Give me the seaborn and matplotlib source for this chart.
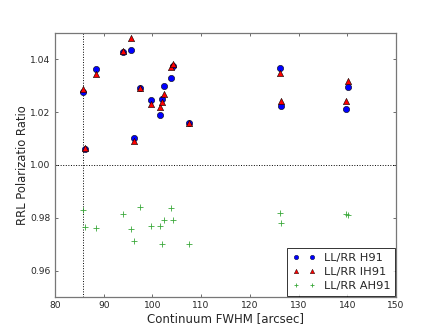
import numpy as np
import pandas as pd
import matplotlib
matplotlib.use("Agg")
import matplotlib.pyplot as plt
import seaborn as sns
from matplotlib.lines import Line2D

# data
fwhm = [85.7, 86.2, 88.5, 94.0, 95.5, 96.2, 97.4, 99.7, 101.6, 102.0,
        102.4, 103.8, 104.2, 107.6, 126.1, 126.3, 139.8, 140.2]
h91 = [1.0275, 1.0059, 1.0363, 1.0429, 1.0434, 1.0102, 1.0292, 1.0248, 1.0191, 1.0250,
       1.0300, 1.0330, 1.0376, 1.0159, 1.0368, 1.0225, 1.0214, 1.0294]
ih91 = [1.0286, 1.0064, 1.0343, 1.0430, 1.0480, 1.0090, 1.0292, 1.0231, 1.0221, 1.0237,
        1.0268, 1.0373, 1.0383, 1.0159, 1.0347, 1.0243, 1.0244, 1.0317]
ah91 = [0.9830, 0.9766, 0.9762, 0.9814, 0.9757, 0.9712, 0.9842, 0.9769, 0.9769, 0.9702,
        0.9793, 0.9836, 0.9793, 0.9702, 0.9818, 0.9780, 0.9814, 0.9812]
labels = ["LL/RR H91", "LL/RR IH91", "LL/RR AH91"]
vline_x = 85.8

df = pd.DataFrame({"fwhm": fwhm, "h91": h91, "ih91": ih91, "ah91": ah91})

sns.set_style("ticks")
plt.rcParams["font.family"] = ["DejaVu Sans"]

fig = plt.figure(figsize=(4.4, 3.3), dpi=100)
ax = fig.add_axes([0.125, 0.1, 0.775, 0.8])

ms = 4.5
green = "#3aa83a"
sns.scatterplot(data=df, x="fwhm", y="h91", ax=ax, marker="o", color="blue",
                edgecolor="black", linewidth=0.4, s=ms**2, zorder=3)
sns.scatterplot(data=df, x="fwhm", y="ih91", ax=ax, marker="^", color="red",
                edgecolor="black", linewidth=0.4, s=ms**2, zorder=3)
sns.scatterplot(data=df, x="fwhm", y="ah91", ax=ax, marker="+", color=green,
                linewidth=0.6, s=ms**2, zorder=3)

ax.axhline(1.0, color="black", linestyle=":", linewidth=0.7)
ax.axvline(vline_x, color="black", linestyle=":", linewidth=0.7)

ax.set_xlim(80, 150)
ax.set_ylim(0.95, 1.05)
ax.set_xticks(np.arange(80, 151, 10))
ax.set_yticks([0.96, 0.98, 1.00, 1.02, 1.04])
ax.set_yticklabels(["0.96", "0.98", "1.00", "1.02", "1.04"])
ax.set_xlabel("Continuum FWHM [arcsec]", fontsize=8.5, labelpad=1)
ax.set_ylabel("RRL Polarizatio Ratio", fontsize=8.3, labelpad=1)
ax.tick_params(direction="in", top=True, right=True, labelsize=6.6,
               length=2.5, width=0.6, color="#555555", pad=3)
for s in ax.spines.values():
    s.set_color("#777777")
    s.set_linewidth(0.9)

lms = 3.2
handles = [
    Line2D([], [], marker="o", linestyle="none", color="blue", markeredgecolor="black",
           markeredgewidth=0.3, markersize=lms),
    Line2D([], [], marker="^", linestyle="none", color="red", markeredgecolor="black",
           markeredgewidth=0.3, markersize=lms),
    Line2D([], [], marker="+", linestyle="none", color=green, markeredgewidth=0.6,
           markersize=lms),
]
leg = ax.legend(handles, labels, loc="lower right", numpoints=2, fontsize=8.2,
                frameon=True, fancybox=False, borderaxespad=0.05, handlelength=2.0,
                handletextpad=0.75, labelspacing=0.38, borderpad=0.45)
leg.get_frame().set_edgecolor("black")
leg.get_frame().set_linewidth(0.7)

fig.savefig("out.png", dpi=100)
